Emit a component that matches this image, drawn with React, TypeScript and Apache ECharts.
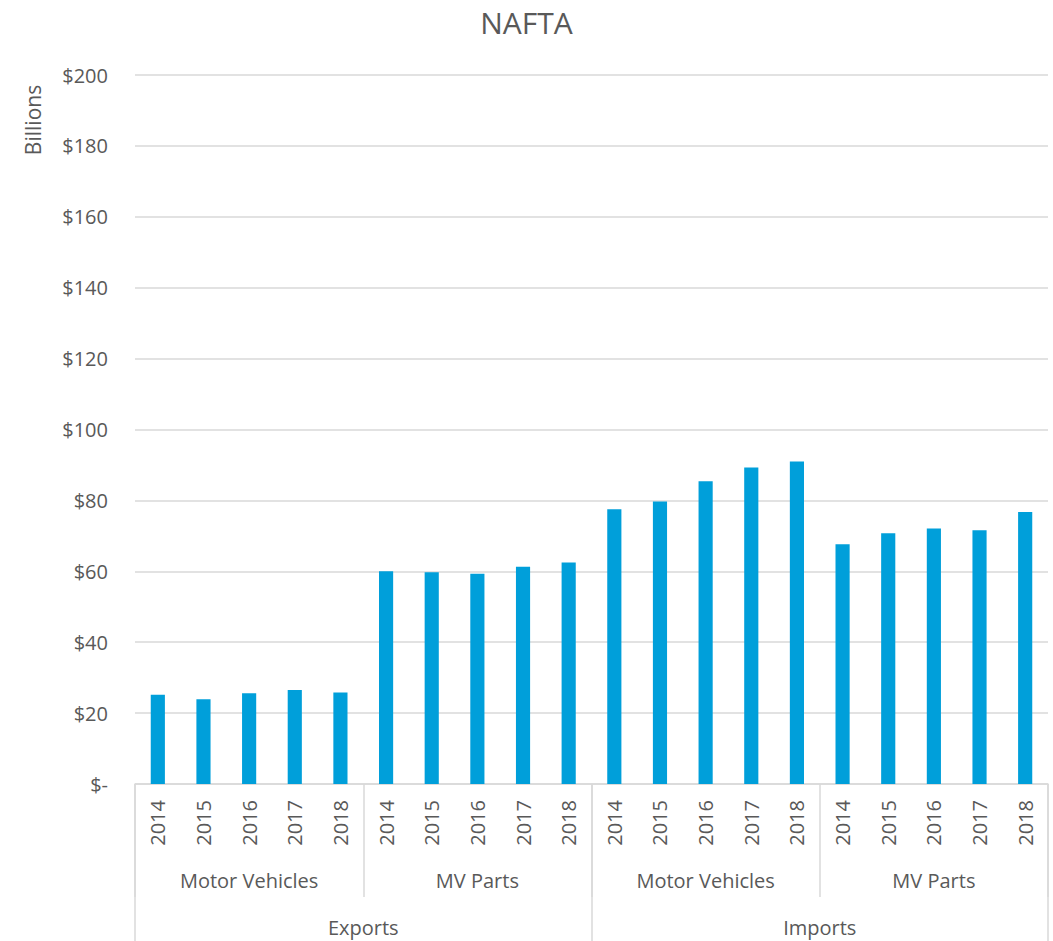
import React, { useEffect, useRef } from "react";
import * as echarts from "echarts";

// NAFTA trade in motor vehicles and parts, billions of dollars
const years = ["2014", "2015", "2016", "2017", "2018"];
const products = ["Motor Vehicles", "MV Parts", "Motor Vehicles", "MV Parts"];
const flows = ["Exports", "Imports"];

const exportsMotorVehicles = [25.2, 23.9, 25.6, 26.5, 25.8];
const exportsParts = [60.0, 59.7, 59.3, 61.3, 62.5];
const importsMotorVehicles = [77.5, 79.7, 85.4, 89.3, 91.0];
const importsParts = [67.6, 70.7, 72.1, 71.6, 76.7];

const yTicks = { min: 0, max: 200, interval: 20 };

const TEXT = "#595959";
const LINE = "#D9D9D9";
const BAR = "#009FDA";
const FONT = "'Open Sans', 'Noto Sans', sans-serif";

export default function App() {
  const ref = useRef<HTMLDivElement>(null);

  useEffect(() => {
    if (!ref.current) return;
    const chart = echarts.init(ref.current, undefined, { renderer: "svg" });

    const yearCats = products.flatMap(() => years);
    const values = [
      ...exportsMotorVehicles,
      ...exportsParts,
      ...importsMotorVehicles,
      ...importsParts,
    ];

    const gridBottom = 157;

    chart.setOption({
      animation: false,
      backgroundColor: "#ffffff",
      textStyle: { fontFamily: FONT, color: TEXT },
      title: {
        text: "NAFTA",
        left: "center",
        top: 2,
        textStyle: { fontFamily: FONT, color: TEXT, fontSize: 30, fontWeight: "normal" },
      },
      graphic: [
        {
          type: "text",
          x: 33,
          y: 120,
          rotation: Math.PI / 2,
          style: {
            text: "Billions",
            fill: TEXT,
            font: `21px ${FONT}`,
            align: "center",
            verticalAlign: "middle",
          },
        },
      ],
      grid: {
        left: 135,
        right: 5,
        top: 75,
        bottom: gridBottom,
        containLabel: false,
        outerBoundsMode: "none",
      },
      xAxis: [
        {
          type: "category",
          data: yearCats,
          position: "bottom",
          axisLine: { show: true, lineStyle: { color: LINE, width: 1.5 } },
          axisTick: { show: false },
          axisLabel: {
            interval: 0,
            rotate: 90,
            margin: 16,
            color: TEXT,
            fontSize: 20,
            fontFamily: FONT,
          },
        },
        {
          type: "category",
          data: products,
          position: "bottom",
          offset: 113,
          axisLine: { show: false },
          axisTick: {
            show: true,
            inside: true,
            interval: 0,
            length: 113,
            lineStyle: { color: LINE, width: 1.5 },
          },
          axisLabel: {
            interval: 0,
            margin: -17,
            verticalAlign: "middle",
            color: TEXT,
            fontSize: 20,
            fontFamily: FONT,
          },
        },
        {
          type: "category",
          data: flows,
          position: "bottom",
          offset: gridBottom,
          axisLine: { show: false },
          axisTick: {
            show: true,
            inside: true,
            interval: 0,
            length: gridBottom,
            lineStyle: { color: LINE, width: 1.5 },
          },
          axisLabel: {
            interval: 0,
            margin: -14,
            verticalAlign: "middle",
            color: TEXT,
            fontSize: 20,
            fontFamily: FONT,
          },
        },
      ],
      yAxis: {
        type: "value",
        min: yTicks.min,
        max: yTicks.max,
        interval: yTicks.interval,
        axisLine: { show: false },
        axisTick: { show: false },
        splitLine: { lineStyle: { color: LINE, width: 1.5 } },
        axisLabel: {
          margin: 27,
          color: TEXT,
          fontSize: 20,
          fontFamily: FONT,
          formatter: (v: number) => (v === 0 ? "$-" : `$${v}`),
        },
      },
      series: [
        {
          type: "bar",
          xAxisIndex: 0,
          data: values,
          barWidth: "31%",
          itemStyle: { color: BAR },
        },
      ],
    });

    return () => chart.dispose();
  }, []);

  return (
    <div
      ref={ref}
      style={{ position: "fixed", left: 0, top: 0, width: 1053, height: 941 }}
    />
  );
}
